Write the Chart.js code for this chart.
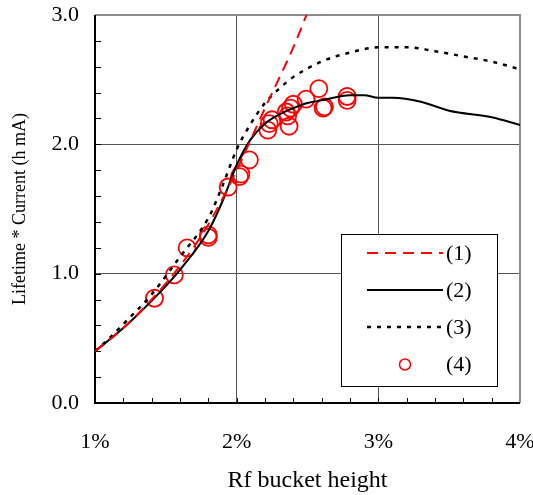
<!DOCTYPE html>
<html>
<head>
<meta charset="utf-8">
<script src="https://cdn.jsdelivr.net/npm/chart.js@4"></script>
<style>
html,body{margin:0;padding:0;background:#fff;}
#wrap{position:relative;width:533px;height:495px;}
</style>
</head>
<body>
<div id="wrap"><canvas id="c" width="533" height="495"></canvas></div>
<script>
// ---- data (x in %, y in h mA) ----
const xTickLabels = ['1%', '2%', '3%', '4%'];
const yTickLabels = ['0.0', '1.0', '2.0', '3.0'];
const seriesNames = ['(1)', '(2)', '(3)', '(4)'];

const s1x = [1.0, 1.2, 1.4, 1.6, 1.8, 2.0, 2.2, 2.4, 2.5];
const s1y = [0.40, 0.58, 0.80, 1.06, 1.38, 1.80, 2.28, 2.75, 3.02];

const s2x = [1.0, 1.2, 1.4, 1.6, 1.8, 1.9, 2.0, 2.1, 2.2, 2.3, 2.4, 2.5, 2.6, 2.8, 2.9, 3.0, 3.1, 3.3, 3.5, 3.8, 4.0];
const s2y = [0.40, 0.58, 0.79, 1.03, 1.33, 1.56, 1.84, 2.04, 2.16, 2.23, 2.28, 2.32, 2.34, 2.38, 2.38, 2.36, 2.36, 2.33, 2.26, 2.21, 2.15];

const s3x = [1.0, 1.1, 1.2, 1.4, 1.6, 1.8, 1.9, 2.0, 2.1, 2.2, 2.3, 2.4, 2.6, 2.8, 3.0, 3.2, 3.4, 3.6, 3.8, 4.0];
const s3y = [0.40, 0.50, 0.61, 0.84, 1.13, 1.43, 1.68, 1.96, 2.16, 2.32, 2.43, 2.52, 2.64, 2.71, 2.75, 2.75, 2.72, 2.68, 2.64, 2.58];

const s4x = [1.42, 1.56, 1.65, 1.80, 1.80, 1.94, 2.02, 2.03, 2.09, 2.22, 2.23, 2.25, 2.35, 2.36, 2.37, 2.38, 2.40, 2.49, 2.58, 2.61, 2.62, 2.78, 2.78];
const s4y = [0.81, 0.99, 1.20, 1.28, 1.30, 1.67, 1.75, 1.77, 1.88, 2.11, 2.16, 2.19, 2.25, 2.22, 2.14, 2.28, 2.31, 2.35, 2.43, 2.28, 2.29, 2.34, 2.37];

const toPts = (xs, ys) => xs.map((x, i) => ({x: x, y: ys[i]}));

const FONT = "'Liberation Serif', 'Times New Roman', serif";

const frame = {
  id: 'frame',
  beforeDatasetsDraw(chart) {
    const {ctx, chartArea: a, scales: {x, y}} = chart;
    ctx.save();
    // gray top/right border
    ctx.strokeStyle = '#8c8c8c';
    ctx.lineWidth = 2;
    ctx.beginPath();
    ctx.moveTo(a.left, a.top); ctx.lineTo(a.right, a.top); ctx.lineTo(a.right, a.bottom);
    ctx.stroke();
    // minor ticks
    ctx.strokeStyle = '#000';
    ctx.lineWidth = 1;
    ctx.beginPath();
    for (let v = 1.2; v < 4.0; v += 0.2) {
      const px = Math.round(x.getPixelForValue(v)) + 0.5;
      ctx.moveTo(px, a.bottom); ctx.lineTo(px, a.bottom - 5);
    }
    for (let v = 0.2; v < 3.0; v += 0.2) {
      const py = Math.round(y.getPixelForValue(v)) + 0.5;
      ctx.moveTo(a.left, py); ctx.lineTo(a.left + 6, py);
    }
    ctx.stroke();
    // black left/bottom axes
    ctx.lineWidth = 2;
    ctx.beginPath();
    ctx.moveTo(a.left, a.top); ctx.lineTo(a.left, a.bottom); ctx.lineTo(a.right, a.bottom);
    ctx.stroke();
    ctx.restore();
  }
};

const legendBox = {
  id: 'legendBox',
  afterDatasetsDraw(chart) {
    const ctx = chart.ctx;
    const bx = 341, by = 234, bw = 156, bh = 152;
    ctx.save();
    ctx.fillStyle = '#fff';
    ctx.fillRect(bx, by, bw, bh);
    ctx.strokeStyle = '#000';
    ctx.lineWidth = 1;
    ctx.strokeRect(bx + 0.5, by + 0.5, bw, bh);
    const rows = [253, 290, 327, 364];
    const ds = chart.data.datasets;
    rows.forEach((ry, i) => {
      const d = ds[i];
      if (i < 3) {
        ctx.strokeStyle = d.borderColor;
        ctx.lineWidth = d.borderWidth;
        ctx.setLineDash(d.borderDash || []);
        ctx.beginPath();
        ctx.moveTo(367, ry); ctx.lineTo(443, ry);
        ctx.stroke();
        ctx.setLineDash([]);
      } else {
        ctx.strokeStyle = d.pointBorderColor;
        ctx.lineWidth = 1.5;
        ctx.beginPath();
        ctx.arc(405, ry + 0.5, 5.5, 0, Math.PI * 2);
        ctx.stroke();
      }
      ctx.fillStyle = '#000';
      ctx.font = '22px ' + FONT;
      ctx.textBaseline = 'middle';
      ctx.textAlign = 'left';
      ctx.fillText(d.label, 446, ry + 1);
    });
    ctx.restore();
  }
};

new Chart(document.getElementById('c'), {
  type: 'scatter',
  data: {
    datasets: [
      {label: seriesNames[0], data: toPts(s1x, s1y), showLine: true, borderColor: '#ff0000', borderWidth: 2, borderDash: [11, 7], pointRadius: 0, cubicInterpolationMode: 'monotone', fill: false},
      {label: seriesNames[1], data: toPts(s2x, s2y), showLine: true, borderColor: '#000000', borderWidth: 2, pointRadius: 0, cubicInterpolationMode: 'monotone', fill: false},
      {label: seriesNames[2], data: toPts(s3x, s3y), showLine: true, borderColor: '#000000', borderWidth: 2.5, borderDash: [4, 6], pointRadius: 0, cubicInterpolationMode: 'monotone', fill: false},
      {label: seriesNames[3], data: toPts(s4x, s4y), showLine: false, pointRadius: 8.5, pointBorderColor: '#ff0000', pointBackgroundColor: 'rgba(0,0,0,0)', pointBorderWidth: 1.8, borderColor: '#ff0000'}
    ]
  },
  plugins: [frame, legendBox],
  options: {
    responsive: false,
    animation: false,
    events: [],
    layout: {padding: {left: 9, right: 13, top: 15, bottom: 0}},
    plugins: {legend: {display: false}, tooltip: {enabled: false}},
    scales: {
      x: {
        type: 'linear', min: 1, max: 4,
        afterBuildTicks: (s) => { s.ticks = xTickLabels.map((t, i) => ({value: i + 1})); },
        ticks: {callback: (v) => xTickLabels[Math.round(v) - 1], color: '#000', font: {family: FONT, size: 22}, padding: 26, maxRotation: 0},
        grid: {drawTicks: false, color: (c) => (c.tick && (c.tick.value === 2 || c.tick.value === 3)) ? '#555' : 'rgba(0,0,0,0)', lineWidth: 1},
        border: {display: false},
        title: {display: true, text: 'Rf bucket height', color: '#000', font: {family: FONT, size: 24}, padding: {top: 10, bottom: 0}},
        afterFit: (s) => { s.height = 92; s.paddingLeft = 0; s.paddingRight = 0; }
      },
      y: {
        type: 'linear', min: 0, max: 3,
        afterBuildTicks: (s) => { s.ticks = yTickLabels.map((t, i) => ({value: i})); },
        ticks: {callback: (v) => yTickLabels[Math.round(v)], color: '#000', font: {family: FONT, size: 22}, padding: 16},
        grid: {drawTicks: false, color: (c) => (c.tick && (c.tick.value === 1 || c.tick.value === 2)) ? '#555' : 'rgba(0,0,0,0)', lineWidth: 1},
        border: {display: false},
        title: {display: true, text: 'Lifetime * Current (h mA)', color: '#000', font: {family: FONT, size: 18}, padding: {top: 0, bottom: 4}},
        afterFit: (s) => { s.width = 86; s.paddingTop = 0; s.paddingBottom = 0; }
      }
    }
  }
});
</script>
</body>
</html>
